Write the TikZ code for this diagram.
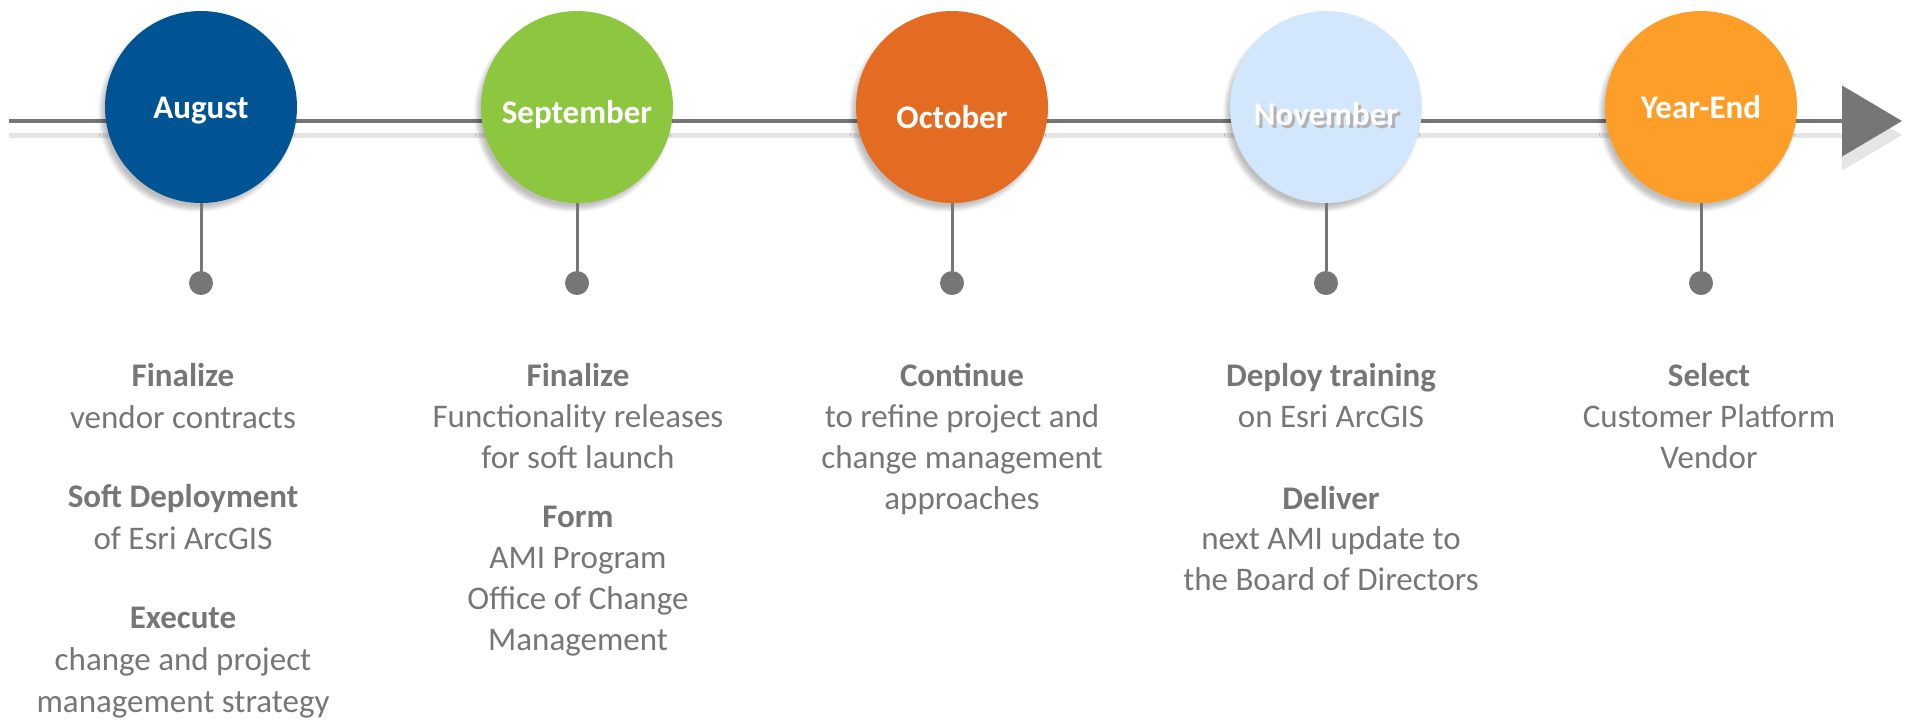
\documentclass[tikz,border=0pt]{standalone}
\usepackage{fontspec}
\setmainfont{Carlito}
\usetikzlibrary{arrows.meta,shadows.blur}
\definecolor{augblue}{RGB}{0,84,147}
\definecolor{sepgreen}{RGB}{141,198,63}
\definecolor{octorange}{RGB}{228,108,34}
\definecolor{novblue}{RGB}{210,231,252}
\definecolor{yeorange}{RGB}{253,158,40}
\definecolor{linegray}{RGB}{118,118,118}
\definecolor{textgray}{RGB}{118,118,118}
\newcommand{\hd}[1]{\textbf{#1}}
\newcommand{\shadetext}[1]{\rlap{\hspace{1.5pt}\raisebox{-1.5pt}{\color{black!30}#1}}#1}
\begin{document}
\begin{tikzpicture}[x=0.5pt, y=-0.5pt, line join=round, font=\fontsize{16.5}{20.4}\selectfont,
	month/.style={circle, minimum size=96pt, inner sep=0pt, text=white, text height=11pt, text depth=3pt,
		font=\fontsize{16.5}{19.6}\selectfont\bfseries,
		blur shadow={shadow xshift=-2pt, shadow yshift=-3pt, shadow opacity=25, shadow blur steps=6}},
	pin/.style={circle, fill=linegray, minimum size=12pt, inner sep=0pt},
	stem/.style={draw=linegray, line width=1.5pt},
	notes/.style={align=center, anchor=north, inner sep=0pt, text=textgray}]
	\def\ymonth{107} \def\ypin{283}
	\useasboundingbox (0,0) rectangle (1910,720);
	% time axis
	\coordinate (start) at (9,121);
	\coordinate (end) at (1902,121);
	\draw[line width=2.5pt, draw=gray!20, -{Triangle[length=30pt,width=35pt]}] ([yshift=-7pt]start) -- ([yshift=-7pt]end);
	\draw[line width=2.25pt, draw=linegray, -{Triangle[length=30pt,width=35pt]}] (start) -- (end);
	% months
	\node[month, fill=augblue] (aug) at (201,\ymonth) {\raisebox{-1.5pt}{August}};
	\node[month, fill=sepgreen] (sep) at (577,\ymonth) {\raisebox{-4pt}{September}};
	\node[month, fill=octorange] (oct) at (952,\ymonth) {\raisebox{-6.5pt}{October}};
	\node[month, fill=novblue] (nov) at (1326,\ymonth) {\raisebox{-5pt}{\shadetext{November}}};
	\node[month, fill=yeorange] (ye) at (1701,\ymonth) {\raisebox{-1.5pt}{Year-End}};
	\node[pin] (augpin) at (201,\ypin) {};
	\node[pin] (seppin) at (577,\ypin) {};
	\node[pin] (octpin) at (952,\ypin) {};
	\node[pin] (novpin) at (1326,\ypin) {};
	\node[pin] (yepin) at (1701,\ypin) {};
	\draw[stem] (aug) -- (augpin);
	\draw[stem] (sep) -- (seppin);
	\draw[stem] (oct) -- (octpin);
	\draw[stem] (nov) -- (novpin);
	\draw[stem] (ye) -- (yepin);
	% what happens when
	\node[notes, font=\fontsize{16.5}{20.8}\selectfont] (augtext) at (183,363) {\hd{Finalize}\\vendor contracts\\[19pt]\hd{Soft Deployment}\\of Esri ArcGIS\\[19pt]\hd{Execute}\\change and project\\management strategy};
	\node[notes] (septext) at (578,363) {\hd{Finalize}\\Functionality releases\\for soft launch\\[9.5pt]\hd{Form}\\AMI Program\\Office of Change\\Management};
	\node[notes] (octtext) at (962,363) {\hd{Continue}\\to refine project and\\change management\\approaches};
	\node[notes] (novtext) at (1331,363) {\hd{Deploy training}\\on Esri ArcGIS\\[20.5pt]\hd{Deliver}\\next AMI update to\\the Board of Directors};
	\node[notes] (yetext) at (1709,363) {\hd{Select}\\Customer Platform\\Vendor};
\end{tikzpicture}
\end{document}
